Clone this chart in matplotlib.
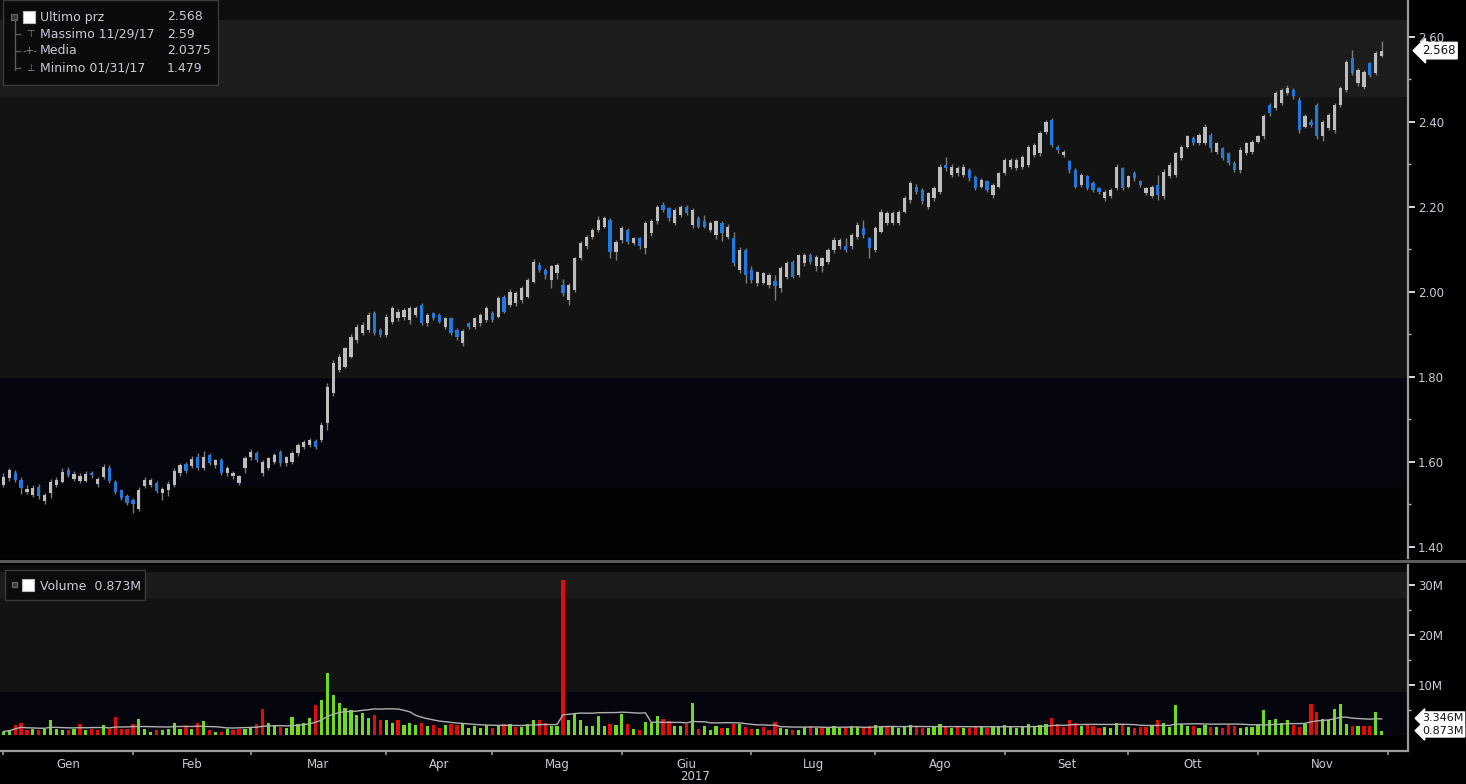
import matplotlib
matplotlib.use("Agg")
import matplotlib.pyplot as plt
import matplotlib.patches as mpatches
from matplotlib.lines import Line2D
import numpy as np
import pandas as pd

# trading days (Borsa Italiana), Dec 30 2016 .. Nov 29 2017
holidays = ["2017-04-14", "2017-04-17", "2017-05-01", "2017-08-15"]
axis_days = pd.bdate_range("2016-12-30", "2017-11-30")
axis_days = axis_days[~axis_days.isin(pd.to_datetime(holidays))]
month_names = ["Gen", "Feb", "Mar", "Apr", "Mag", "Giu", "Lug", "Ago", "Set", "Ott", "Nov"]

opens = [1.545, 1.562, 1.573, 1.558, 1.530, 1.523, 1.542, 1.507, 1.528, 1.546,
         1.554, 1.581, 1.560, 1.555, 1.556, 1.573, 1.548, 1.565, 1.585, 1.553,
         1.533, 1.520, 1.510, 1.490, 1.543, 1.545, 1.550, 1.528, 1.535, 1.546,
         1.575, 1.596, 1.590, 1.612, 1.585, 1.617, 1.592, 1.605, 1.573, 1.566,
         1.550, 1.585, 1.612, 1.620, 1.573, 1.585, 1.601, 1.624, 1.597, 1.601,
         1.620, 1.636, 1.640, 1.650, 1.652, 1.691, 1.762, 1.817, 1.824, 1.848,
         1.887, 1.903, 1.911, 1.950, 1.911, 1.899, 1.930, 1.938, 1.940, 1.934,
         1.946, 1.970, 1.926, 1.950, 1.946, 1.918, 1.938, 1.911, 1.879, 1.926,
         1.918, 1.926, 1.934, 1.950, 1.942, 1.989, 1.970, 1.973, 1.981, 1.989,
         2.024, 2.064, 2.052, 2.028, 2.044, 2.017, 1.981, 2.005, 2.079, 2.107,
         2.130, 2.146, 2.154, 2.169, 2.095, 2.122, 2.146, 2.115, 2.126, 2.103,
         2.138, 2.166, 2.205, 2.197, 2.162, 2.181, 2.201, 2.158, 2.173, 2.166,
         2.146, 2.134, 2.162, 2.130, 2.126, 2.052, 2.099, 2.052, 2.021, 2.021,
         2.017, 2.025, 2.009, 2.036, 2.071, 2.040, 2.068, 2.087, 2.060, 2.060,
         2.071, 2.099, 2.107, 2.107, 2.107, 2.130, 2.150, 2.126, 2.099, 2.142,
         2.162, 2.162, 2.162, 2.189, 2.216, 2.248, 2.240, 2.201, 2.220, 2.236,
         2.299, 2.275, 2.279, 2.275, 2.287, 2.271, 2.248, 2.260, 2.228, 2.248,
         2.279, 2.295, 2.291, 2.295, 2.299, 2.322, 2.326, 2.377, 2.405, 2.342,
         2.323, 2.307, 2.287, 2.252, 2.272, 2.256, 2.244, 2.221, 2.225, 2.244,
         2.291, 2.248, 2.279, 2.260, 2.232, 2.225, 2.252, 2.225, 2.272, 2.275,
         2.315, 2.342, 2.362, 2.350, 2.350, 2.370, 2.330, 2.338, 2.326, 2.303,
         2.287, 2.326, 2.330, 2.354, 2.366, 2.440, 2.432, 2.444, 2.468, 2.475,
         2.452, 2.389, 2.401, 2.440, 2.366, 2.385, 2.381, 2.440, 2.475, 2.550,
         2.491, 2.483, 2.538, 2.515, 2.555]
highs = [1.575, 1.585, 1.580, 1.565, 1.545, 1.545, 1.548, 1.528, 1.560, 1.565,
         1.585, 1.588, 1.578, 1.575, 1.578, 1.578, 1.565, 1.595, 1.592, 1.558,
         1.537, 1.525, 1.515, 1.540, 1.565, 1.562, 1.555, 1.540, 1.555, 1.585,
         1.598, 1.600, 1.615, 1.620, 1.625, 1.622, 1.608, 1.610, 1.590, 1.578,
         1.570, 1.615, 1.630, 1.626, 1.605, 1.612, 1.622, 1.628, 1.615, 1.626,
         1.645, 1.652, 1.656, 1.655, 1.695, 1.785, 1.840, 1.855, 1.870, 1.900,
         1.925, 1.930, 1.952, 1.955, 1.915, 1.948, 1.966, 1.960, 1.962, 1.966,
         1.966, 1.973, 1.950, 1.953, 1.950, 1.942, 1.942, 1.915, 1.912, 1.930,
         1.942, 1.950, 1.966, 1.955, 1.990, 1.993, 2.006, 2.003, 2.013, 2.033,
         2.078, 2.070, 2.056, 2.064, 2.068, 2.030, 2.022, 2.083, 2.120, 2.135,
         2.150, 2.178, 2.178, 2.175, 2.122, 2.155, 2.150, 2.130, 2.130, 2.166,
         2.172, 2.205, 2.212, 2.200, 2.197, 2.205, 2.205, 2.197, 2.178, 2.180,
         2.168, 2.170, 2.168, 2.160, 2.140, 2.105, 2.103, 2.060, 2.050, 2.048,
         2.044, 2.040, 2.060, 2.072, 2.076, 2.090, 2.092, 2.092, 2.087, 2.083,
         2.103, 2.130, 2.126, 2.126, 2.138, 2.165, 2.170, 2.130, 2.155, 2.195,
         2.190, 2.190, 2.193, 2.225, 2.262, 2.255, 2.245, 2.236, 2.250, 2.300,
         2.318, 2.300, 2.296, 2.300, 2.292, 2.276, 2.268, 2.264, 2.256, 2.283,
         2.315, 2.316, 2.315, 2.322, 2.346, 2.350, 2.378, 2.405, 2.410, 2.346,
         2.335, 2.310, 2.292, 2.280, 2.276, 2.260, 2.248, 2.240, 2.244, 2.300,
         2.295, 2.276, 2.284, 2.264, 2.248, 2.252, 2.275, 2.290, 2.305, 2.330,
         2.346, 2.370, 2.366, 2.374, 2.396, 2.374, 2.354, 2.342, 2.330, 2.307,
         2.340, 2.354, 2.358, 2.370, 2.418, 2.445, 2.472, 2.480, 2.488, 2.480,
         2.458, 2.418, 2.406, 2.445, 2.405, 2.420, 2.445, 2.484, 2.546, 2.570,
         2.526, 2.522, 2.542, 2.566, 2.590]
lows = [1.540, 1.555, 1.552, 1.525, 1.525, 1.518, 1.512, 1.500, 1.515, 1.540,
        1.550, 1.565, 1.555, 1.550, 1.552, 1.562, 1.540, 1.560, 1.550, 1.525,
        1.510, 1.498, 1.479, 1.485, 1.538, 1.540, 1.528, 1.510, 1.520, 1.540,
        1.568, 1.575, 1.585, 1.580, 1.580, 1.592, 1.586, 1.570, 1.568, 1.560,
        1.545, 1.575, 1.605, 1.600, 1.566, 1.580, 1.596, 1.590, 1.590, 1.596,
        1.615, 1.630, 1.636, 1.630, 1.648, 1.676, 1.755, 1.812, 1.820, 1.845,
        1.880, 1.898, 1.905, 1.898, 1.893, 1.895, 1.925, 1.932, 1.935, 1.925,
        1.940, 1.922, 1.920, 1.933, 1.926, 1.912, 1.898, 1.888, 1.872, 1.913,
        1.913, 1.920, 1.930, 1.930, 1.938, 1.950, 1.965, 1.968, 1.975, 1.985,
        2.020, 2.048, 2.030, 2.010, 2.030, 1.990, 1.970, 2.000, 2.075, 2.100,
        2.125, 2.140, 2.150, 2.080, 2.075, 2.115, 2.112, 2.110, 2.100, 2.090,
        2.132, 2.160, 2.188, 2.168, 2.158, 2.176, 2.180, 2.150, 2.150, 2.150,
        2.140, 2.125, 2.120, 2.125, 2.062, 2.045, 2.020, 2.022, 2.015, 2.018,
        2.010, 1.981, 2.000, 2.030, 2.032, 2.036, 2.062, 2.066, 2.050, 2.048,
        2.066, 2.092, 2.100, 2.095, 2.100, 2.125, 2.128, 2.080, 2.093, 2.138,
        2.158, 2.158, 2.158, 2.185, 2.210, 2.230, 2.208, 2.195, 2.215, 2.230,
        2.285, 2.270, 2.273, 2.270, 2.262, 2.240, 2.244, 2.236, 2.222, 2.244,
        2.275, 2.290, 2.287, 2.290, 2.295, 2.318, 2.320, 2.372, 2.340, 2.328,
        2.318, 2.280, 2.244, 2.248, 2.240, 2.235, 2.230, 2.215, 2.220, 2.240,
        2.240, 2.244, 2.262, 2.246, 2.228, 2.220, 2.216, 2.218, 2.268, 2.270,
        2.310, 2.338, 2.345, 2.345, 2.345, 2.330, 2.325, 2.310, 2.298, 2.283,
        2.280, 2.322, 2.325, 2.350, 2.360, 2.415, 2.428, 2.440, 2.463, 2.455,
        2.375, 2.385, 2.388, 2.360, 2.355, 2.380, 2.375, 2.435, 2.470, 2.510,
        2.485, 2.478, 2.505, 2.510, 2.553]
closes = [1.565, 1.581, 1.558, 1.538, 1.536, 1.538, 1.519, 1.522, 1.552, 1.558,
          1.577, 1.570, 1.572, 1.568, 1.572, 1.569, 1.560, 1.589, 1.555, 1.530,
          1.515, 1.503, 1.500, 1.535, 1.558, 1.558, 1.532, 1.536, 1.548, 1.578,
          1.592, 1.578, 1.608, 1.586, 1.612, 1.597, 1.604, 1.573, 1.585, 1.573,
          1.568, 1.609, 1.624, 1.605, 1.600, 1.609, 1.617, 1.597, 1.612, 1.620,
          1.640, 1.648, 1.652, 1.636, 1.687, 1.777, 1.832, 1.848, 1.867, 1.895,
          1.918, 1.922, 1.946, 1.903, 1.899, 1.942, 1.962, 1.954, 1.958, 1.962,
          1.962, 1.926, 1.946, 1.938, 1.930, 1.938, 1.903, 1.895, 1.907, 1.918,
          1.938, 1.946, 1.962, 1.934, 1.985, 1.954, 2.001, 1.997, 2.009, 2.028,
          2.071, 2.052, 2.040, 2.060, 2.064, 1.997, 2.017, 2.079, 2.115, 2.130,
          2.146, 2.169, 2.173, 2.095, 2.118, 2.150, 2.118, 2.126, 2.107, 2.162,
          2.166, 2.201, 2.193, 2.173, 2.193, 2.201, 2.185, 2.193, 2.154, 2.154,
          2.162, 2.166, 2.138, 2.154, 2.068, 2.099, 2.040, 2.028, 2.048, 2.044,
          2.040, 2.013, 2.056, 2.068, 2.036, 2.087, 2.087, 2.071, 2.083, 2.079,
          2.099, 2.122, 2.122, 2.099, 2.134, 2.158, 2.134, 2.103, 2.150, 2.189,
          2.185, 2.185, 2.189, 2.220, 2.256, 2.236, 2.213, 2.232, 2.244, 2.295,
          2.291, 2.295, 2.291, 2.295, 2.268, 2.244, 2.264, 2.240, 2.252, 2.279,
          2.311, 2.311, 2.311, 2.318, 2.342, 2.346, 2.373, 2.401, 2.346, 2.334,
          2.330, 2.287, 2.248, 2.275, 2.244, 2.240, 2.236, 2.236, 2.240, 2.295,
          2.244, 2.272, 2.268, 2.252, 2.244, 2.248, 2.228, 2.283, 2.299, 2.326,
          2.342, 2.366, 2.350, 2.370, 2.389, 2.338, 2.350, 2.315, 2.303, 2.287,
          2.334, 2.350, 2.354, 2.366, 2.413, 2.420, 2.468, 2.475, 2.479, 2.460,
          2.381, 2.413, 2.393, 2.366, 2.401, 2.417, 2.440, 2.479, 2.542, 2.515,
          2.522, 2.518, 2.511, 2.562, 2.568]
# volume, millions of shares
volumes = [0.7, 1.0, 2.0, 2.5, 1.0, 1.3, 1.0, 1.3, 3.1, 1.3,
           1.0, 1.0, 1.3, 2.2, 1.0, 1.3, 1.0, 2.1, 1.3, 3.7,
           1.3, 1.3, 2.3, 3.3, 1.3, 0.7, 1.0, 1.0, 1.3, 2.5,
           1.3, 1.7, 1.3, 2.5, 2.9, 1.0, 0.7, 0.7, 1.3, 1.0,
           1.3, 1.3, 1.7, 2.2, 5.2, 2.5, 2.1, 1.7, 1.5, 3.7,
           2.2, 2.5, 3.5, 6.0, 7.0, 12.5, 8.0, 6.5, 5.5, 5.0,
           4.0, 4.5, 3.5, 4.0, 3.0, 3.0, 2.5, 3.0, 2.0, 2.5,
           2.0, 2.5, 1.8, 2.0, 1.5, 2.0, 2.2, 2.0, 2.5, 1.5,
           1.8, 1.5, 2.0, 1.5, 2.0, 2.3, 2.3, 1.7, 1.7, 2.3,
           3.0, 3.0, 2.5, 1.9, 1.9, 31.0, 3.0, 4.2, 3.0, 1.9,
           1.9, 3.9, 1.9, 2.2, 2.0, 4.2, 2.2, 1.3, 1.0, 2.7,
           2.5, 3.9, 3.3, 2.9, 1.9, 1.9, 2.3, 6.5, 1.3, 1.9,
           1.0, 1.9, 1.5, 1.5, 2.2, 2.2, 1.7, 1.3, 1.3, 1.7,
           1.0, 2.7, 1.5, 1.3, 1.0, 1.1, 1.6, 1.9, 1.4, 1.7,
           1.6, 1.9, 1.4, 1.7, 1.9, 1.6, 1.4, 1.8, 2.0, 1.6,
           1.9, 1.7, 1.4, 1.6, 2.0, 1.8, 1.5, 1.4, 1.7, 2.2,
           1.6, 1.4, 1.7, 1.5, 1.4, 1.9, 1.6, 1.4, 1.8, 1.7,
           2.0, 1.6, 1.4, 1.7, 2.2, 1.9, 2.0, 2.2, 3.5, 2.3,
           1.6, 3.0, 2.5, 1.8, 2.2, 1.9, 1.5, 1.6, 1.4, 2.5,
           2.2, 1.6, 1.5, 1.7, 1.6, 1.8, 3.0, 2.5, 1.7, 6.0,
           2.3, 1.9, 1.8, 1.5, 2.0, 1.6, 1.7, 1.5, 2.0, 1.8,
           1.5, 1.7, 1.6, 2.0, 5.0, 3.0, 3.2, 2.5, 3.0, 2.0,
           1.7, 2.3, 6.2, 4.7, 3.3, 3.0, 5.2, 6.2, 2.2, 1.9,
           1.9, 1.9, 1.9, 4.7, 0.873]
ma_window = 15
ma_last_label = 3.346
last_price = 2.568

legend_rows = [("Ultimo prz", "2.568"), ("Massimo 11/29/17", "2.59"),
               ("Media", "2.0375"), ("Minimo 01/31/17", "1.479")]
year_label = "2017"

W, H = 1466, 784
TXT = "#c9cbd6"
BG = "#000000"


def fx(x):
    return x / W


def fy(y):
    return 1 - y / H


o = np.array(opens)
h = np.array(highs)
l = np.array(lows)
c = np.array(closes)
v = np.array(volumes)
n = len(c)
x = np.arange(n)

px_per_day = 5.89
x0_px = 3.4
xlim = (-x0_px / px_per_day, (1408 - x0_px) / px_per_day)

fig = plt.figure(figsize=(W / 100, H / 100), dpi=100, facecolor=BG)

# ---------------- price panel ----------------
ax = fig.add_axes([0, fy(558), fx(1408), 558 / H])
ax.set_facecolor("#030303")
ax.set_xlim(*xlim)
ax.set_ylim(1.374, 2.687)
ax.axhspan(2.640, 2.687, color="#0e0e0e", lw=0, zorder=0)
ax.axhspan(2.459, 2.640, color="#1c1c1c", lw=0, zorder=0)
ax.axhspan(1.798, 2.459, color="#131313", lw=0, zorder=0)
ax.axhspan(1.541, 1.798, color="#05050d", lw=0, zorder=0)

up = c >= o
body_col = np.where(up, "#bdbdbd", "#1f7ae0")
ax.vlines(x, l, h, color="#7c7c7c", lw=1.0, zorder=2)
ax.bar(x, np.maximum(np.abs(c - o), 0.003), bottom=np.minimum(o, c), width=0.55,
       color=body_col, lw=0, zorder=3)

ax.yaxis.tick_right()
ax.set_yticks(np.arange(1.4, 2.61, 0.2))
ax.set_yticks(np.arange(1.5, 2.61, 0.2), minor=True)
ax.yaxis.set_major_formatter(plt.FormatStrFormatter("%.2f"))
ax.tick_params(axis="y", which="major", colors="white", length=5, width=1.2,
               labelsize=8.5, labelcolor=TXT, pad=2)
ax.tick_params(axis="y", which="minor", colors="#bbbbbb", length=2, width=1)
ax.set_xticks([])
for s in ["top", "left", "bottom"]:
    ax.spines[s].set_visible(False)
ax.spines["right"].set_color("#9a9a9a")
ax.spines["right"].set_linewidth(1.6)

ax.annotate(f"{last_price:.3f}", xy=(1.0, last_price), xycoords=("axes fraction", "data"),
            xytext=(10, 0), textcoords="offset points", ha="left", va="center",
            fontsize=8.5, color="#111111", annotation_clip=False,
            bbox=dict(boxstyle="larrow,pad=0.15", fc="white", ec="white"))

# ---------------- volume panel ----------------
av = fig.add_axes([0, fy(751), fx(1408), 186 / H])
av.set_facecolor("#000000")
av.set_xlim(*xlim)
av.set_ylim(-3.2, 34)
av.axhspan(27.4, 32.6, color="#1b1b1b", lw=0, zorder=0)
av.axhspan(8.6, 27.4, color="#131313", lw=0, zorder=0)
av.axhspan(0, 8.6, color="#05050d", lw=0, zorder=0)
av.axhspan(32.6, 34, color="#0b0b0b", lw=0, zorder=0)

vol_up = np.concatenate([[True], c[1:] >= c[:-1]])
av.bar(x, v, width=0.55, color=np.where(vol_up, "#6cdc1c", "#e80a0a"), lw=0, zorder=2)
ma = pd.Series(v).rolling(ma_window, min_periods=1).mean()
av.plot(x, ma, color="#b0b0b0", lw=1.0, zorder=3)

av.yaxis.tick_right()
av.set_yticks([10, 20, 30])
av.set_yticklabels(["10M", "20M", "30M"])
av.set_yticks([5, 15, 25], minor=True)
av.tick_params(axis="y", which="major", colors="white", length=5, width=1.2,
               labelsize=8.5, labelcolor=TXT, pad=2)
av.tick_params(axis="y", which="minor", colors="#bbbbbb", length=2, width=1)

# month ticks at month ends, labels centred on each month
ends = [i for i in range(len(axis_days) - 1) if axis_days[i].month != axis_days[i + 1].month]
ends.append(len(axis_days) - 1)
av.set_xticks(ends)
av.set_xticklabels([])
centers = [(ends[k] + ends[k + 1]) / 2 for k in range(len(ends) - 1)]
av.set_xticks(centers, minor=True)
av.set_xticklabels(month_names, minor=True)
av.tick_params(axis="x", which="major", colors="#9a9a9a", length=3, width=1.2)
av.tick_params(axis="x", which="minor", length=0, labelsize=8.5, labelcolor=TXT, pad=5)
av.text((ends[0] + ends[-1]) / 2, -0.1, year_label, transform=av.get_xaxis_transform(),
        ha="center", va="top", fontsize=8.5, color=TXT)
for s in ["top", "left"]:
    av.spines[s].set_visible(False)
for s in ["right", "bottom"]:
    av.spines[s].set_color("#9a9a9a")
    av.spines[s].set_linewidth(1.6)

for val, txt in [(ma_last_label, f"{ma_last_label:.3f}M"), (v[-1], f"{v[-1]:.3f}M")]:
    av.annotate(txt, xy=(1.0, val), xycoords=("axes fraction", "data"),
                xytext=(10, 0), textcoords="offset points", ha="left", va="center",
                fontsize=8, color="#111111", annotation_clip=False,
                bbox=dict(boxstyle="larrow,pad=0.12", fc="white", ec="white"))

# separator between panels
fig.add_artist(mpatches.Rectangle((0, fy(563)), 1, 3 / H, transform=fig.transFigure,
                                  fc="#5c5c5c", ec="none"))

# ---------------- legend boxes ----------------
fig.add_artist(mpatches.Rectangle((fx(3), fy(85)), fx(215), 85 / H, transform=fig.transFigure,
                                  fc="#0b0b0b", ec="#3a3a3a", lw=1))
fig.add_artist(Line2D([fx(15), fx(15)], [fy(19), fy(70)], transform=fig.transFigure,
                      color="#5a5a5a", lw=1))
fig.add_artist(mpatches.Rectangle((fx(11), fy(20)), fx(6), 6 / H, transform=fig.transFigure,
                                  fc="#3a3a3a", ec="#6a6a6a", lw=0.8))
fig.add_artist(mpatches.Rectangle((fx(23), fy(23)), fx(12), 12 / H, transform=fig.transFigure,
                                  fc="white", ec="#bbbbbb", lw=0.8))
markers = ["", "\u22a4", "-+-", "\u22a5"]
for k, (name, val) in enumerate(legend_rows):
    yy = 17 + k * 17
    if k > 0:
        fig.add_artist(Line2D([fx(15), fx(20)], [fy(yy), fy(yy)], transform=fig.transFigure,
                              color="#5a5a5a", lw=1))
        fig.text(fx(30), fy(yy), markers[k], fontsize=7, color="#8a8a8a", ha="center", va="center")
    fig.text(fx(40), fy(yy), name, fontsize=9, color=TXT, ha="left", va="center")
    fig.text(fx(167), fy(yy), val, fontsize=9, color=TXT, ha="left", va="center")

fig.add_artist(mpatches.Rectangle((fx(5), fy(600)), fx(140), 30 / H, transform=fig.transFigure,
                                  fc="#0b0b0b", ec="#3a3a3a", lw=1))
fig.add_artist(mpatches.Rectangle((fx(12), fy(587)), fx(5), 5 / H, transform=fig.transFigure,
                                  fc="#3a3a3a", ec="#6a6a6a", lw=0.8))
fig.add_artist(mpatches.Rectangle((fx(22), fy(591)), fx(12), 12 / H, transform=fig.transFigure,
                                  fc="white", ec="#bbbbbb", lw=0.8))
fig.text(fx(40), fy(586), f"Volume  {v[-1]:.3f}M", fontsize=9, color=TXT, ha="left", va="center")

fig.savefig("out.png", dpi=100, facecolor=BG)
